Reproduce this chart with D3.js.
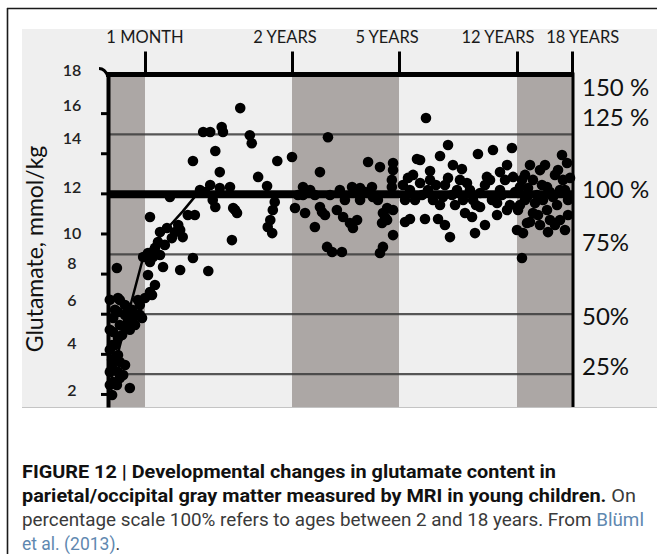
<!DOCTYPE html>
<html><head><meta charset="utf-8">
<script src="https://cdn.jsdelivr.net/npm/d3@7"></script>
<style>
html,body{margin:0;padding:0;background:#fff;}
svg{display:block;}
</style></head><body>
<svg id="chart" width="657" height="554"></svg>
<script>
// ---------- data ----------
const tickAges = [1, 24, 60, 144, 216];                 // months
const tickLabels = ["1 MONTH", "2 YEARS", "5 YEARS", "12 YEARS", "18 YEARS"];
const tickLabelAges = [1.0, 22.9, 56.0, 130.5, 230];
const bandStart = [0, 24, 144];
const bandEnd = [1, 60, 216];
const yTicks = [2, 4, 6, 8, 10, 12, 14, 16, 18];
const yTickLabelAt = [2.2, 4.54, 6.68, 8.53, 10.02, 12.32, 14.76, 16.4, 18.15];
const refValue = 11.95;                                  // 100 % level
const pctLevels = [25, 50, 75, 100, 125, 150];
const pctLabels = ["25%", "50%", "75%", "100 %", "125 %", "150 %"];
const pctLabelAt = [3.34, 5.84, 9.57, 12.17, 15.76, 17.25];
const trendAges = [0.05, 0.32, 0.59, 0.95, 3, 4.9, 6.9, 9.1];
const trendValues = [2.45, 4.4, 6.3, 8.8, 9.7, 10.4, 11.1, 11.95];

const pointsNeonate = [[0.24,8.28],[0.27,6.78],[0.32,6.68],[0.27,6.09],[0.14,5.79],[0.32,5.44],[0.51,5.29],[0.14,5.09],[0.27,4.79],[0.11,4.44],[0.19,3.79],[0.32,3.59],[0.11,3.29],[0.41,2.94],[0.32,2.79],[0.14,2.59],[0.05,2.45],[0.59,2.30],[0.11,1.95],[0.54,5.59],[0.68,5.79],[0.78,5.94],[0.92,5.79],[0.86,6.43],[1.0,6.78],[0.05,5.2],[0.05,4.2],[0.19,6.2],[0.46,5.94],[0.73,5.44],[0.05,6.7],[0.11,3.7],[0.27,3.1],[0.05,3.1],[0.95,8.83],
  [0.46,6.43],[0.65,6.2],[0.81,6.68],[0.38,4.94],[0.59,5.2],[0.19,4.44],[0.27,3.94],[0.46,3.44],[0.24,2.45],[0.86,5.94]];
const pointsInfant = [[1.47,7.93],[2.56,7.43],[1.78,7.08],[2.1,6.93],[1.47,9.03],[2.25,8.83],[3.35,8.93],[2.56,9.28],[3.03,9.57],[3.35,10.07],[4.44,10.27],[5.7,10.07],[6.9,9.82],[6.5,10.17],[4.9,11.82],[1.78,10.82],[8.8,10.92],[14.6,9.67],[8.5,8.78],[3.82,8.33],[6.5,8.18],[10.9,8.13],[15.9,16.25],[10.1,15.06],[11.2,15.06],[13.0,15.31],[13.2,15.06],[17.4,14.9],[17.7,14.5],[12.0,14.11],[8.5,13.61],[12.7,13.06],[18.7,12.82],[20.1,12.37],[21.7,13.61],[11.2,12.42],[12.7,12.27],[14.3,12.32],[11.6,11.67],[12.0,11.32],[15.1,11.17],[15.4,11.02],[14.8,11.27],[9.6,12.17],[10.4,12.07],[21.3,11.57],[21.0,11.17],[20.6,10.67],[20.2,10.32],[20.9,10.02],[24,13.81],
  [4.1,9.43],[5.2,9.77],[6.2,10.42],[7.7,10.92],[1.78,8.58]];
const points2to5 = [[36.1,14.8],[33.4,13.06],[49.6,13.56],[53.6,13.31],[58.0,13.51],[58.0,13.16],[27.7,12.32],[27.7,11.92],[25.0,11.27],[28.4,11.02],[33.4,11.32],[34.1,11.07],[39.1,11.17],[41.2,10.82],[43.5,10.52],[44.5,10.27],[45.9,10.67],[44.2,12.32],[50.9,12.32],[51.2,11.82],[56.0,11.27],[55.3,10.82],[54.3,10.52],[58.0,11.17],[58.0,9.92],[57.6,12.32],[31.7,10.32],[35.8,9.33],[37.5,9.08],[40.8,9.08],[54.6,9.33],[53.6,9.03],[57.6,12.67],[54.6,11.02],[56.0,10.67],[30.1,12.17],[36.8,11.92],[40.1,12.17],[48.6,12.07],[46.9,11.67],
  [26.0,11.92],[31.7,11.92],[41.8,11.67],[46.9,12.27],[52.9,11.67],[35.1,10.92]];
const points5to12 = [[66.4,12.77],[75.0,12.52],[72.8,13.71],[79.2,15.76],[94.9,14.41],[89.2,13.86],[116.2,13.96],[126.9,14.16],[140.4,14.26],[104.8,13.21],[82.1,13.11],[136.9,13.41],[122.6,12.82],[94.9,12.77],[67.8,12.17],[82.1,12.67],[84.2,11.67],[91.3,11.82],[101.3,12.17],[108.4,12.52],[117.7,12.02],[124.8,12.67],[129.8,11.52],[141.2,12.82],[67.8,10.72],[78.5,10.72],[87.8,10.72],[96.3,9.82],[114.1,10.02],[107.0,11.02],[112.0,10.82],[117.7,11.32],[129.8,10.92],[136.9,11.17],[71.4,11.67],[92.7,12.42],[112.7,11.67],[131.9,12.17],[99.9,11.42],[135.5,12.67],
  [62.8,12.42],[64.3,11.67],[70.0,12.92],[76.4,11.92],[80.6,12.17],[86.3,12.42],[89.2,11.42],[97.7,11.92],[103.4,12.67],[105.6,11.67],[110.5,12.17],[114.8,11.42],[121.2,12.42],[126.2,11.67],[133.3,11.92],[139.0,11.42],[142.6,12.07],[75.0,13.66],[98.4,13.41],[131.9,13.06],[121.2,10.42],[92.7,10.42],[64.3,10.57]];
const points12to18 = [[147.9,12.32],[157.1,11.82],[164.9,12.67],[174.1,13.16],[183.3,12.32],[191.1,11.82],[204.2,12.67],[209.5,13.51],[202.9,13.91],[161.0,13.41],[145.3,11.17],[164.9,11.02],[183.3,11.17],[200.3,10.67],[206.8,10.17],[144,10.17],[151.9,10.02],[157.1,10.52],[150.5,8.78],[170.2,11.92],[193.7,12.92],[178.0,11.67],[210.8,11.67],[187.2,10.67],[154.5,12.92],[174.1,10.42],[200.3,12.17],
  [150.5,12.67],[158.4,12.27],[167.6,11.52],[176.7,12.42],[187.2,12.07],[196.4,11.42],[206.8,12.17],[213.4,12.77],[180.7,13.41],[197.7,13.16],[154.5,11.67],[171.5,10.92],[193.7,10.42],[210.8,10.92],[161.0,10.57],[184.6,10.07],[147.9,11.42]];

const captionLines = [
  [{t:"FIGURE 12 | Developmental changes in glutamate content in", b:true}],
  [{t:"parietal/occipital gray matter measured by MRI in young children.", b:true},{t:" On"}],
  [{t:"percentage scale 100% refers to ages between 2 and 18 years. From "},{t:"Blüml", link:true}],
  [{t:"et al. (2013)", link:true},{t:"."}]
];

// ---------- drawing ----------
const svg = d3.select("#chart");
const FONT = "Lato, 'Open Sans', sans-serif";

const x = d3.scaleLinear().domain([0, ...tickAges]).range([108, 145, 292, 399, 517, 572]);
const y = d3.scaleLinear().domain([1.35, 18]).range([407, 73]);
const yPct = p => y(refValue * p / 100);

// frame
svg.append("line").attr("x1", 7).attr("x2", 657).attr("y1", 8.5).attr("y2", 8.5)
  .attr("stroke", "#1a1a1a").attr("stroke-width", 1.6);
svg.append("line").attr("x1", 7.5).attr("x2", 7.5).attr("y1", 8).attr("y2", 554)
  .attr("stroke", "#1a1a1a").attr("stroke-width", 1.6);

// picture background
svg.append("rect").attr("x", 22).attr("y", 29).attr("width", 635).attr("height", y.range()[0] - 29)
  .attr("fill", "#efefef");
svg.append("line").attr("x1", 22).attr("x2", 657).attr("y1", y.range()[0] + 0.5).attr("y2", y.range()[0] + 0.5)
  .attr("stroke", "#c4c4c4").attr("stroke-width", 1);

const topY = yPct(150);
const botY = y.range()[0];

// bands
svg.append("g").selectAll("rect").data(bandStart).join("rect")
  .attr("x", (d, i) => x(d)).attr("width", (d, i) => x(bandEnd[i]) - x(d))
  .attr("y", topY).attr("height", botY - topY)
  .attr("fill", "#aca7a5");

// grid lines
svg.append("g").selectAll("line").data(pctLevels.filter(p => p !== 100 && p !== 150)).join("line")
  .attr("x1", x(0)).attr("x2", x(216))
  .attr("y1", d => yPct(d)).attr("y2", d => yPct(d))
  .attr("stroke", "#3c3c3c").attr("stroke-width", 2.2).attr("opacity", 0.85);

// 100% thick line
svg.append("line").attr("x1", x(0)).attr("x2", x(216)).attr("y1", yPct(100)).attr("y2", yPct(100))
  .attr("stroke", "#000").attr("stroke-width", 8);

// points
const allPoints = [].concat(pointsNeonate, pointsInfant, points2to5, points5to12, points12to18);
svg.append("g").selectAll("circle").data(allPoints).join("circle")
  .attr("cx", d => x(d[0])).attr("cy", d => y(d[1])).attr("r", 5.3)
  .attr("fill", "#000");

// trend line
const trend = trendAges.map((a, i) => [a, trendValues[i]]);
svg.append("path").datum(trend)
  .attr("d", d3.line().x(d => x(d[0])).y(d => y(d[1])))
  .attr("fill", "none").attr("stroke", "#000").attr("stroke-width", 2.5);

// top axis (ticks)
const gTop = svg.append("g").attr("transform", `translate(0,${topY})`)
  .call(d3.axisTop(x).tickValues(tickAges).tickSize(23).tickSizeOuter(0).tickFormat(""));
gTop.select(".domain").remove();
gTop.selectAll(".tick line").attr("stroke", "#000").attr("stroke-width", 3);
// 150% top line
svg.append("line").attr("x1", x(0) - 2).attr("x2", x(216) + 1.5).attr("y1", topY).attr("y2", topY)
  .attr("stroke", "#000").attr("stroke-width", 5);

// left axis
const gLeft = svg.append("g").attr("transform", `translate(${x(0)},0)`)
  .call(d3.axisLeft(y).tickValues(yTicks.filter(v => v < 18)).tickSize(7).tickSizeOuter(0).tickFormat(""));
gLeft.select(".domain").attr("stroke", "#000").attr("stroke-width", 4);
gLeft.selectAll(".tick line").attr("stroke", "#000").attr("stroke-width", 3);
// small hook at top-left corner
svg.append("path")
  .attr("d", `M${x(0) - 9},${topY - 6} Q${x(0) - 3},${topY - 6} ${x(0)},${topY + 2}`)
  .attr("fill", "none").attr("stroke", "#000").attr("stroke-width", 3);

// right axis line
svg.append("line").attr("x1", x(216) + 1).attr("x2", x(216) + 1).attr("y1", topY - 2).attr("y2", botY)
  .attr("stroke", "#000").attr("stroke-width", 3);

// top labels
svg.append("g").selectAll("text").data(tickLabels).join("text")
  .attr("x", (d, i) => x(tickLabelAges[i])).attr("y", 43)
  .attr("text-anchor", "middle").attr("font-family", FONT).attr("font-size", 16.5)
  .attr("fill", "#1a1a1a").text(d => d);

// y tick labels
svg.append("g").selectAll("text").data(yTicks).join("text")
  .attr("x", 72).attr("y", (d, i) => y(yTickLabelAt[i])).attr("dy", "0.35em")
  .attr("text-anchor", "middle").attr("font-family", FONT).attr("font-size", 16)
  .attr("font-weight", 600).attr("fill", "#222").text(d => d);

// y title
svg.append("text").attr("transform", "translate(35,249) rotate(-90)")
  .attr("text-anchor", "middle").attr("dy", "0.35em")
  .attr("font-family", FONT).attr("font-size", 23).attr("fill", "#111")
  .text("Glutamate, mmol/kg");

// right percent labels
svg.append("g").selectAll("text").data(pctLabels).join("text")
  .attr("x", 582).attr("y", (d, i) => y(pctLabelAt[i])).attr("dy", "0.35em")
  .attr("font-family", FONT).attr("font-size", 24).attr("fill", "#111").text(d => d);

// caption
const capY = [478, 502, 526, 550];
const capLen = [534, 614, 622, 0];
captionLines.forEach((parts, i) => {
  const t = svg.append("text").attr("x", 22).attr("y", capY[i])
    .attr("font-family", "Roboto, 'Liberation Sans', sans-serif").attr("font-size", 17.5);
  if (capLen[i]) t.attr("textLength", capLen[i]).attr("lengthAdjust", "spacingAndGlyphs");
  parts.forEach(p => {
    t.append("tspan").text(p.t)
      .attr("font-weight", p.b ? 700 : 400)
      .attr("fill", p.link ? "#5f88b0" : (p.b ? "#111" : "#3a3a3a"));
  });
});
</script>
</body></html>
